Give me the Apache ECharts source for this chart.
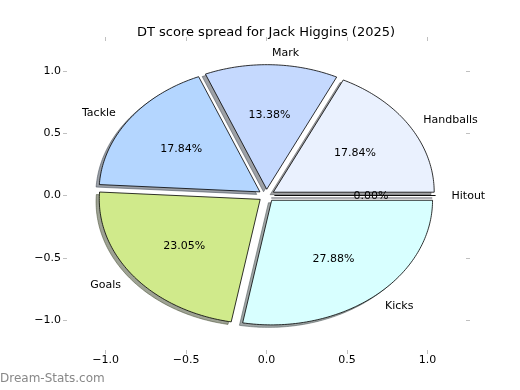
<!DOCTYPE html>
<html>
<head>
<meta charset="utf-8">
<script src="https://cdn.jsdelivr.net/npm/echarts@6/dist/echarts.min.js"></script>
<style>html,body{margin:0;padding:0;background:#fff}#c{width:520px;height:390px}</style>
</head>
<body>
<div id="c"></div>
<script>
const titleText = 'DT score spread for Jack Higgins (2025)';
const categories = ['Handballs', 'Mark', 'Tackle', 'Goals', 'Kicks', 'Hitout'];
const values = [17.84, 13.38, 17.84, 23.05, 27.88, 0.00];
const sliceColors = ['#eaf1fe', '#c5d9fe', '#b4d6ff', '#d0ea8b', '#d8ffff', '#e0e0ff'];
const xTicks = [-1.0, -0.5, 0.0, 0.5, 1.0];
const yTicks = [-1.0, -0.5, 0.0, 0.5, 1.0];
const watermark = 'Dream-Stats.com';

const FONT = 'DejaVu Sans, sans-serif';
const EXPLODE = 0.05;
const LIM = 1.24;
const total = values.reduce((a, b) => a + b, 0);
const cum = [];
let acc = 0;
values.forEach(v => { cum.push(acc); acc += v; });

function wedgeGeom(i) {
  const a0 = cum[i] / total * 2 * Math.PI;
  const a1 = (cum[i] + values[i]) / total * 2 * Math.PI;
  const mid = (a0 + a1) / 2;
  const cx = EXPLODE * Math.cos(mid), cy = EXPLODE * Math.sin(mid);
  return { a0, a1, mid, cx, cy };
}
function wedgePoints(api, g, dx, dy) {
  const pts = [api.coord([g.cx + dx, g.cy + dy])];
  const n = Math.max(1, Math.ceil((g.a1 - g.a0) / (Math.PI / 180)));
  for (let k = 0; k <= n; k++) {
    const a = g.a0 + (g.a1 - g.a0) * k / n;
    pts.push(api.coord([g.cx + dx + Math.cos(a), g.cy + dy + Math.sin(a)]));
  }
  return pts;
}
function hexRgb(h) {
  return [parseInt(h.slice(1, 3), 16), parseInt(h.slice(3, 5), 16), parseInt(h.slice(5, 7), 16)];
}

const idx = categories.map((c, i) => [i]);
const fmt = v => (v < 0 ? '\u2212' : '') + Math.abs(v).toFixed(1);

const chart = echarts.init(document.getElementById('c'), null, { renderer: 'canvas' });
const tickStyle = { show: true, length: 4, lineStyle: { color: '#c0c0c0', width: 1 } };
const noLine = { show: false, onZero: false };
chart.setOption({
  animation: false,
  backgroundColor: '#fff',
  title: {
    text: titleText, left: 261, top: 21, textAlign: 'center',
    textStyle: { fontFamily: FONT, fontSize: 13, fontWeight: 'normal', color: '#000' }
  },
  grid: { left: 67, right: 54, top: 41, bottom: 40, containLabel: false },
  xAxis: [
    { type: 'value', min: -LIM, max: LIM, position: 'bottom',
      axisLine: noLine, splitLine: { show: false },
      axisTick: Object.assign({ customValues: xTicks }, tickStyle),
      axisLabel: { customValues: xTicks, formatter: fmt, margin: 5, fontFamily: FONT, fontSize: 11, color: '#000' } },
    { type: 'value', min: -LIM, max: LIM, position: 'top',
      axisLine: noLine, splitLine: { show: false },
      axisTick: Object.assign({ customValues: xTicks }, tickStyle),
      axisLabel: { show: false } }
  ],
  yAxis: [
    { type: 'value', min: -LIM, max: LIM, position: 'left',
      axisLine: noLine, splitLine: { show: false },
      axisTick: Object.assign({ customValues: yTicks }, tickStyle),
      axisLabel: { customValues: yTicks, formatter: fmt, margin: 6, fontFamily: FONT, fontSize: 11, color: '#000' } },
    { type: 'value', min: -LIM, max: LIM, position: 'right',
      axisLine: noLine, splitLine: { show: false },
      axisTick: Object.assign({ customValues: yTicks }, tickStyle),
      axisLabel: { show: false } }
  ],
  graphic: [{
    type: 'text', left: 0, top: 373,
    style: { text: watermark, fontFamily: FONT, fontSize: 12, fontWeight: 'normal', fill: '#888888' }
  }],
  series: [
    {
      type: 'custom', coordinateSystem: 'cartesian2d', xAxisIndex: 0, yAxisIndex: 0, z: 1,
      data: idx, clip: false,
      renderItem: function (params, api) {
        const i = api.value(0);
        const g = wedgeGeom(i);
        const c = hexRgb(sliceColors[i]).map(v => Math.round(v * 0.3));
        const col = 'rgba(' + c.join(',') + ',0.5)';
        return {
          type: 'polygon',
          shape: { points: wedgePoints(api, g, -0.02, -0.02) },
          style: { fill: col, stroke: col, lineWidth: 1 }
        };
      }
    },
    {
      type: 'custom', coordinateSystem: 'cartesian2d', xAxisIndex: 0, yAxisIndex: 0, z: 2,
      data: idx, clip: false,
      renderItem: function (params, api) {
        const i = api.value(0);
        const g = wedgeGeom(i);
        const lx = g.cx + 1.1 * Math.cos(g.mid), ly = g.cy + 1.1 * Math.sin(g.mid);
        const px = g.cx + 0.6 * Math.cos(g.mid), py = g.cy + 0.6 * Math.sin(g.mid);
        const lp = api.coord([lx, ly]);
        const pp = api.coord([px, py]);
        return {
          type: 'group',
          children: [
            { type: 'polygon', shape: { points: wedgePoints(api, g, 0, 0) },
              style: { fill: sliceColors[i], stroke: '#000', lineWidth: 0.8 } },
            { type: 'text', x: lp[0], y: lp[1] + 1, z2: 10,
              style: { text: categories[i], fontFamily: FONT, fontSize: 11, fill: '#000',
                       align: lx > 0 ? 'left' : 'right', verticalAlign: 'middle' } },
            { type: 'text', x: pp[0], y: pp[1] + 1, z2: 10,
              style: { text: (values[i] / total * 100).toFixed(2) + '%', fontFamily: FONT, fontSize: 11, fill: '#000',
                       align: 'center', verticalAlign: 'middle' } }
          ]
        };
      }
    }
  ]
});
</script>
</body>
</html>
